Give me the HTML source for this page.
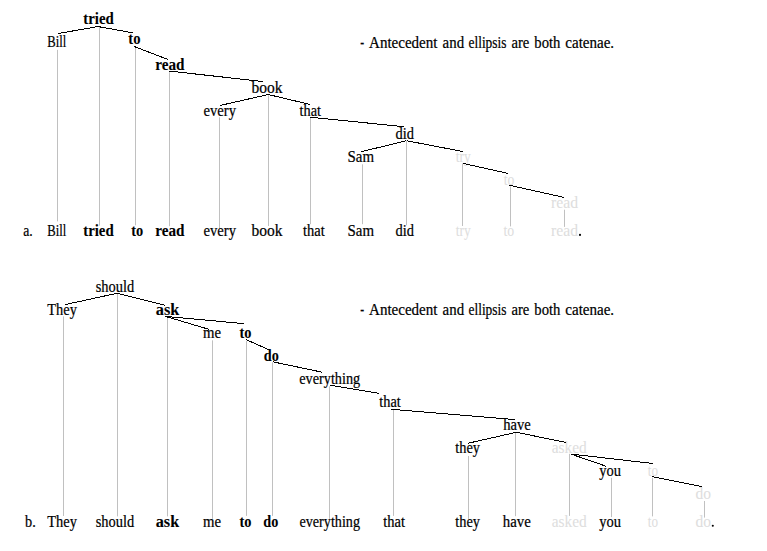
<!DOCTYPE html>
<html><head><meta charset="utf-8"><title>Catena ellipsis trees</title>
<style>
html,body{margin:0;padding:0;background:#fff;}
body{width:767px;height:551px;overflow:hidden;}
svg{display:block;}
text{font-family:"Liberation Serif",serif;font-size:16px;stroke:#000;stroke-width:0.22px;}
.b{font-weight:bold;stroke-width:0.1px;}
.g{fill:#dedede;stroke:#dedede;stroke-width:0.05px;}
</style></head><body>
<svg width="767" height="551" viewBox="0 0 767 551">
<rect width="767" height="551" fill="#fff"/>
<g stroke="#c0c0c0" stroke-width="1" fill="none">
<line x1="57.50" y1="49.80" x2="57.50" y2="221.40"/>
<line x1="99.50" y1="27.05" x2="99.50" y2="225.60"/>
<line x1="135.50" y1="47.00" x2="135.50" y2="225.30"/>
<line x1="169.50" y1="72.30" x2="169.50" y2="226.20"/>
<line x1="219.50" y1="117.30" x2="219.50" y2="228.00"/>
<line x1="268.50" y1="95.30" x2="268.50" y2="226.00"/>
<line x1="310.50" y1="117.80" x2="310.50" y2="224.20"/>
<line x1="362.50" y1="164.30" x2="362.50" y2="224.20"/>
<line x1="406.50" y1="140.70" x2="406.50" y2="225.30"/>
<line x1="462.50" y1="163.50" x2="462.50" y2="226.00"/>
<line x1="510.50" y1="186.50" x2="510.50" y2="226.40"/>
<line x1="564.50" y1="209.70" x2="564.50" y2="226.90"/>
<line x1="63.50" y1="316.40" x2="63.50" y2="516.00"/>
<line x1="117.50" y1="294.00" x2="117.50" y2="516.40"/>
<line x1="167.50" y1="317.30" x2="167.50" y2="516.40"/>
<line x1="212.50" y1="340.30" x2="212.50" y2="518.90"/>
<line x1="246.50" y1="340.80" x2="246.50" y2="515.90"/>
<line x1="272.50" y1="362.30" x2="272.50" y2="515.90"/>
<line x1="329.50" y1="386.30" x2="329.50" y2="518.90"/>
<line x1="393.50" y1="409.80" x2="393.50" y2="515.90"/>
<line x1="468.50" y1="456.00" x2="468.50" y2="518.90"/>
<line x1="515.50" y1="433.00" x2="515.50" y2="516.20"/>
<line x1="569.50" y1="453.80" x2="569.50" y2="515.90"/>
<line x1="611.50" y1="477.80" x2="611.50" y2="517.10"/>
<line x1="652.50" y1="477.80" x2="652.50" y2="516.40"/>
<line x1="704.50" y1="501.00" x2="704.50" y2="517.60"/>
</g>
<g fill="#000">
<text transform="translate(83.30 23.75) scale(0.9271 1)" class="b">tried</text>
<text transform="translate(47.30 47.25) scale(0.7917 1)">Bill</text>
<text transform="translate(128.30 43.90) scale(0.9139 1)" class="b">to</text>
<text transform="translate(155.30 69.85) scale(0.9481 1)" class="b">read</text>
<text transform="translate(251.50 92.60) scale(0.9688 1)">book</text>
<text transform="translate(203.50 116.25) scale(0.9142 1)">every</text>
<text transform="translate(299.50 116.25) scale(0.8958 1)">that</text>
<text transform="translate(395.50 139.00) scale(0.9046 1)">did</text>
<text transform="translate(347.50 162.25) scale(0.9315 1)">Sam</text>
<text transform="translate(455.75 161.50) scale(0.8451 1)" class="g">try</text>
<text transform="translate(503.75 184.75) scale(0.8554 1)" class="g">to</text>
<text transform="translate(551.10 208.25) scale(0.9800 1)" class="g">read</text>
<text transform="translate(23.25 236.15) scale(0.8559 1)">a.</text>
<text transform="translate(47.25 236.15) scale(0.7917 1)">Bill</text>
<text transform="translate(83.25 236.15) scale(0.9271 1)" class="b">tried</text>
<text transform="translate(131.25 236.15) scale(0.8989 1)" class="b">to</text>
<text transform="translate(155.25 236.15) scale(0.9497 1)" class="b">read</text>
<text transform="translate(203.50 236.15) scale(0.9142 1)">every</text>
<text transform="translate(251.50 236.15) scale(0.9688 1)">book</text>
<text transform="translate(303.00 236.15) scale(0.9062 1)">that</text>
<text transform="translate(347.50 236.15) scale(0.9315 1)">Sam</text>
<text transform="translate(395.50 236.15) scale(0.9046 1)">did</text>
<text transform="translate(455.75 236.15) scale(0.8451 1)" class="g">try</text>
<text transform="translate(503.50 236.15) scale(0.8635 1)" class="g">to</text>
<text transform="translate(551.10 236.15) scale(0.9800 1)" class="g">read</text>
<text transform="translate(95.75 291.60) scale(0.9027 1)">should</text>
<text transform="translate(47.30 315.40) scale(0.9027 1)">They</text>
<text transform="translate(155.75 315.00) scale(1.0216 1)" class="b">ask</text>
<text transform="translate(203.00 338.25) scale(0.9207 1)">me</text>
<text transform="translate(239.50 338.25) scale(0.8989 1)" class="b">to</text>
<text transform="translate(263.75 361.00) scale(0.8876 1)" class="b">do</text>
<text transform="translate(299.25 384.20) scale(0.8918 1)">everything</text>
<text transform="translate(379.25 407.15) scale(0.8958 1)">that</text>
<text transform="translate(503.25 430.25) scale(0.9106 1)">have</text>
<text transform="translate(455.30 453.00) scale(0.8966 1)">they</text>
<text transform="translate(551.75 452.95) scale(0.9602 1)" class="g">asked</text>
<text transform="translate(599.25 476.35) scale(0.9062 1)">you</text>
<text transform="translate(647.75 476.25) scale(0.8233 1)" class="g">to</text>
<text transform="translate(695.50 499.25) scale(0.9688 1)" class="g">do</text>
<text transform="translate(25.00 527.00) scale(0.8958 1)">b.</text>
<text transform="translate(47.30 527.00) scale(0.9027 1)">They</text>
<text transform="translate(95.75 527.00) scale(0.9027 1)">should</text>
<text transform="translate(155.75 527.00) scale(1.0151 1)" class="b">ask</text>
<text transform="translate(203.00 527.00) scale(0.9207 1)">me</text>
<text transform="translate(239.50 527.00) scale(0.8989 1)" class="b">to</text>
<text transform="translate(263.25 527.00) scale(0.8876 1)" class="b">do</text>
<text transform="translate(299.50 527.00) scale(0.8845 1)">everything</text>
<text transform="translate(383.25 527.00) scale(0.9062 1)">that</text>
<text transform="translate(455.30 527.00) scale(0.8966 1)">they</text>
<text transform="translate(502.75 527.00) scale(0.9272 1)">have</text>
<text transform="translate(551.75 527.00) scale(0.9602 1)" class="g">asked</text>
<text transform="translate(599.25 527.00) scale(0.9062 1)">you</text>
<text transform="translate(647.75 527.00) scale(0.8233 1)" class="g">to</text>
<text transform="translate(695.50 527.00) scale(0.9688 1)" class="g">do</text>
<text transform="translate(360.20 47.55) scale(0.7290 1)">-</text>
<text transform="translate(369.05 47.55) scale(0.9396 1)">Antecedent</text>
<text transform="translate(442.60 47.55) scale(0.9307 1)">and</text>
<text transform="translate(468.50 47.55) scale(0.8379 1)">ellipsis</text>
<text transform="translate(511.50 47.55) scale(0.9156 1)">are</text>
<text transform="translate(534.30 47.55) scale(0.9174 1)">both</text>
<text transform="translate(565.30 47.55) scale(0.9413 1)">catenae.</text>
<text transform="translate(360.20 315.25) scale(0.7290 1)">-</text>
<text transform="translate(369.05 315.25) scale(0.9396 1)">Antecedent</text>
<text transform="translate(442.60 315.25) scale(0.9307 1)">and</text>
<text transform="translate(468.50 315.25) scale(0.8379 1)">ellipsis</text>
<text transform="translate(511.50 315.25) scale(0.9156 1)">are</text>
<text transform="translate(534.30 315.25) scale(0.9174 1)">both</text>
<text transform="translate(565.30 315.25) scale(0.9413 1)">catenae.</text>
<circle cx="580.0" cy="234.9" r="1.05"/>
<circle cx="712.8" cy="525.8" r="1.05"/>
</g>
<g stroke="#000" stroke-width="1" fill="none" shape-rendering="crispEdges">
<line x1="58.00" y1="33.55" x2="98.00" y2="26.55"/>
<line x1="98.00" y1="26.55" x2="132.50" y2="32.80"/>
<line x1="134.25" y1="46.50" x2="168.00" y2="59.50"/>
<line x1="169.50" y1="71.10" x2="262.75" y2="81.50"/>
<line x1="268.25" y1="94.50" x2="220.00" y2="105.50"/>
<line x1="268.25" y1="94.50" x2="309.80" y2="104.40"/>
<line x1="310.00" y1="117.20" x2="404.00" y2="126.70"/>
<line x1="361.00" y1="151.80" x2="406.50" y2="140.70"/>
<line x1="406.50" y1="140.70" x2="462.75" y2="151.50"/>
<line x1="462.75" y1="163.35" x2="507.75" y2="173.35"/>
<line x1="509.30" y1="185.20" x2="563.70" y2="197.30"/>
<line x1="65.10" y1="304.60" x2="117.00" y2="293.30"/>
<line x1="117.00" y1="293.30" x2="165.50" y2="305.30"/>
<line x1="165.50" y1="316.40" x2="243.75" y2="323.60"/>
<line x1="165.50" y1="316.40" x2="209.50" y2="329.50"/>
<line x1="245.70" y1="339.40" x2="270.00" y2="350.30"/>
<line x1="272.50" y1="361.75" x2="322.50" y2="372.25"/>
<line x1="330.00" y1="385.20" x2="378.75" y2="393.30"/>
<line x1="391.25" y1="409.25" x2="515.00" y2="419.60"/>
<line x1="516.40" y1="432.30" x2="468.00" y2="443.25"/>
<line x1="516.40" y1="432.30" x2="566.25" y2="442.50"/>
<line x1="570.80" y1="454.00" x2="606.50" y2="466.40"/>
<line x1="570.80" y1="454.00" x2="652.80" y2="463.50"/>
<line x1="652.00" y1="476.60" x2="702.00" y2="486.60"/>
</g>
</svg>
</body></html>
